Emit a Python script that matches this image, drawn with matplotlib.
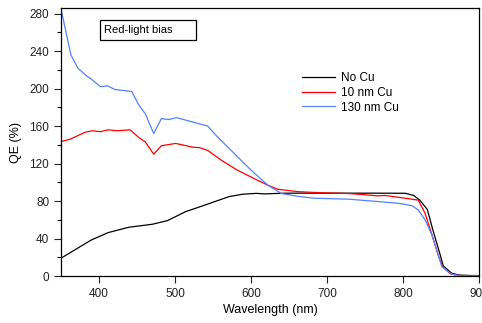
import matplotlib
matplotlib.use('Agg')
from matplotlib import pyplot as plt
from matplotlib.patches import Rectangle
from matplotlib.ticker import MultipleLocator

plt.rcParams['font.family'] = 'Liberation Sans'

# QE spectra, no Cu layer
wl_none = [350, 368, 390, 412, 439, 470, 490, 514, 540, 571, 589, 607, 618, 640, 662, 700,
           760, 803, 814, 822, 832, 840, 847, 853, 864, 874, 890, 900]
qe_none = [19, 27.8, 38.5, 46.3, 52, 55.2, 59.1, 68.7, 75.9, 84.7, 87.3, 88.2, 87.6, 88.3, 88.4, 88.4,
           88.4, 88.3, 86, 81, 71, 47, 28, 10.7, 3, 1, 0.5, 0.5]

# QE spectra, 10 nm Cu
wl_10 = [350, 362, 382, 391, 402, 412, 424, 441, 452, 461, 472, 482, 501, 523, 532, 543,
         562, 582, 609, 622, 635, 662, 688, 728, 741, 767, 776, 803, 820, 829, 838, 847,
         852, 862, 874, 890, 900]
qe_10 = [143.5, 146, 153.5, 155, 154, 156, 155, 156, 148, 143, 130, 139, 141.5, 137.5, 137, 134,
         123, 113, 102, 97, 92.6, 90, 89, 88, 87.3, 85.5, 86, 83, 81, 67, 44, 20.6,
         10, 2.5, 0.5, 0.3, 0.3]

# QE spectra, 130 nm Cu
wl_130 = [350, 363, 372, 383, 390, 402, 411, 421, 443, 452, 461, 472, 482, 492, 502, 543,
          554, 572, 600, 622, 640, 662, 683, 728, 759, 794, 812, 820, 829, 838, 845, 851,
          864, 878, 900]
qe_130 = [285, 236, 222, 214, 210, 202, 203, 199, 197, 183, 173, 152, 168, 167, 169, 160,
          150, 135.5, 113, 97, 88, 85, 83, 82, 80, 77.6, 75, 70.5, 60, 44, 26, 10,
          2, 0, 0]

series = [
    (wl_none, qe_none, 'black', 'No Cu'),
    (wl_10, qe_10, '#ff0000', '10 nm Cu'),
    (wl_130, qe_130, '#5580ff', '130 nm Cu'),
]

fig = plt.figure(figsize=(4.82, 3.23), dpi=100)
ax = fig.add_axes([0.1266, 0.1455, 0.8672, 0.8297])

for wl, qe, color, label in series:
    ax.plot(wl, qe, color=color, lw=0.9, label=label)

ax.set_xlim(350, 900)
ax.set_ylim(0, 286)
ax.xaxis.set_major_locator(MultipleLocator(100))
ax.yaxis.set_major_locator(MultipleLocator(40))
ax.yaxis.set_minor_locator(MultipleLocator(20))
ax.tick_params(axis='both', which='major', direction='out', length=5, width=0.8,
               labelsize=8.5, colors='#222222')
ax.tick_params(axis='y', which='minor', direction='out', length=3, width=0.8)
for s in ax.spines.values():
    s.set_linewidth(0.9)

ax.set_xlabel('Wavelength (nm)', fontsize=9, labelpad=3)
ax.set_ylabel('QE (%)', fontsize=9, labelpad=5)

# label box, wider than its text
ax.add_patch(Rectangle((0.093, 0.881), 0.230, 0.074, transform=ax.transAxes,
                       fc='white', ec='black', lw=0.9, zorder=3))
ax.text(0.102, 0.918, 'Red-light bias', transform=ax.transAxes, fontsize=8,
        va='center', ha='left', zorder=4)

ax.legend(loc='upper left', bbox_to_anchor=(0.565, 0.78), frameon=False, fontsize=8.5,
          handlelength=2.8, handletextpad=0.5, labelspacing=0.25, borderaxespad=0)

fig.savefig('out.png', dpi=100)
